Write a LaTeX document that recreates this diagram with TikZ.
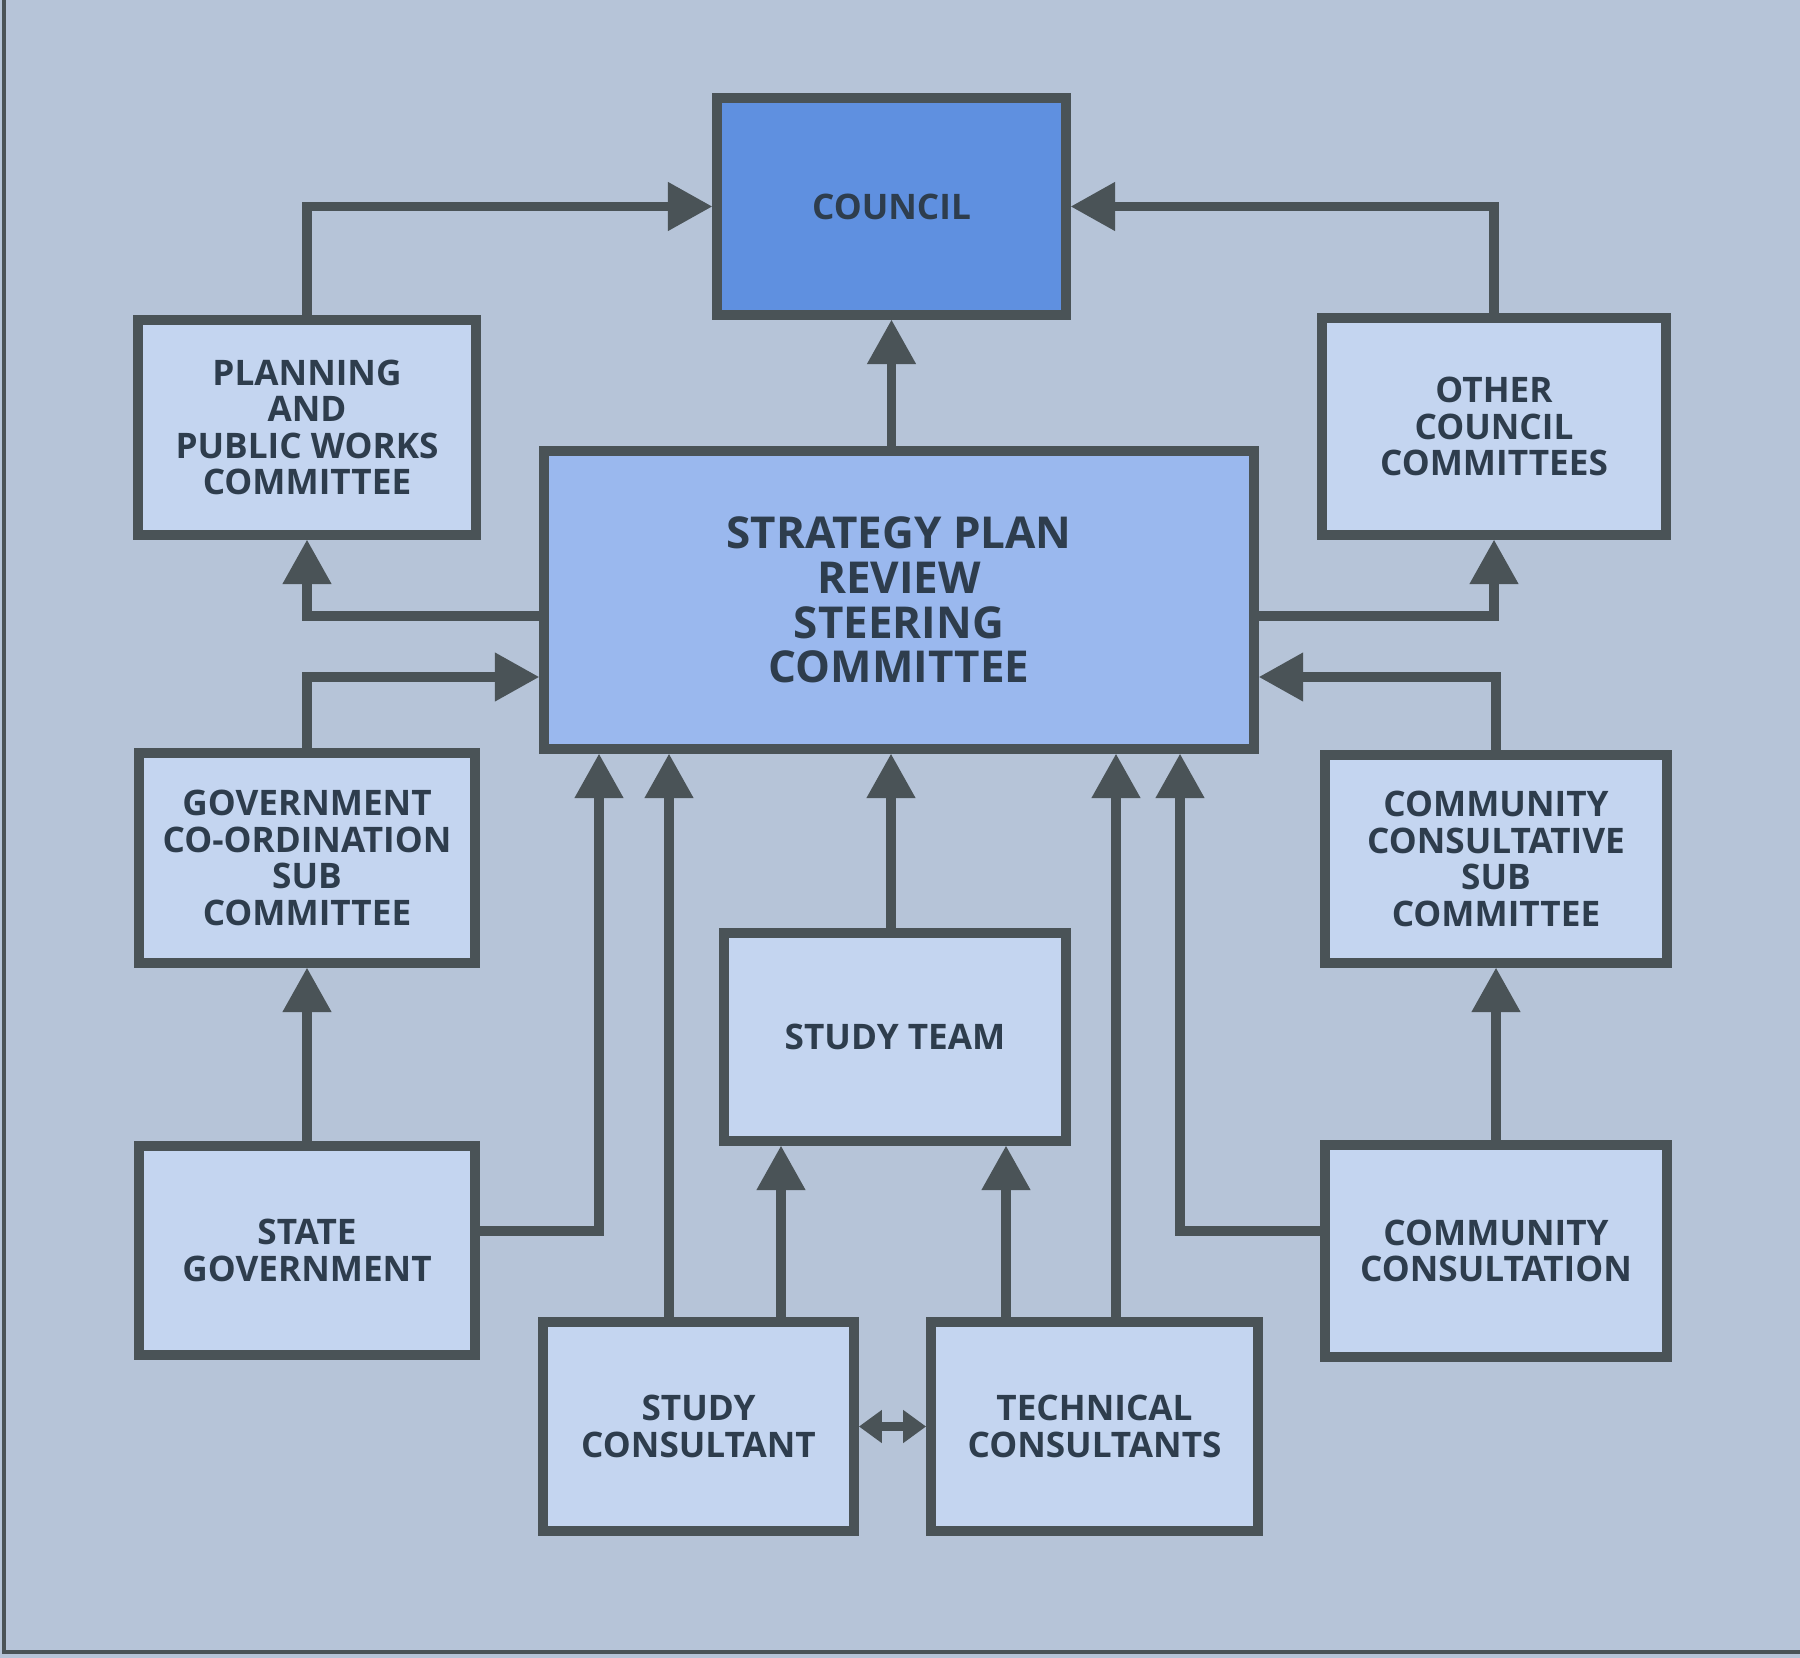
\documentclass[tikz,border=0pt]{standalone}
\usepackage{fontspec}
\setmainfont{Open Sans}
\usetikzlibrary{arrows.meta}
\definecolor{bgc}{HTML}{B6C4D8}
\definecolor{lightbox}{HTML}{C4D5F0}
\definecolor{midbox}{HTML}{9AB8EE}
\definecolor{darkbox}{HTML}{5F90E0}
\definecolor{linec}{HTML}{4A5357}
\definecolor{textc}{HTML}{2E3D4D}
\tikzset{
  box/.style={draw=linec, line width=2.85pt, fill=lightbox, align=center, text=textc,
    inner sep=0pt, font=\bfseries\fontsize{10}{10.4}\selectfont},
  conn/.style={draw=linec, line width=2.6pt, line join=miter,
    -{Triangle[width=14pt,length=12.5pt,line width=0pt]}},
  dbl/.style={draw=linec, line width=2.6pt,
    {Triangle[width=9.5pt,length=6.5pt,line width=0pt]}-{Triangle[width=9.5pt,length=6.5pt,line width=0pt]}},
  frameline/.style={draw=linec, line width=1pt}
}
\begin{document}
\begin{tikzpicture}[x=0.01cm,y=-0.01cm]
\useasboundingbox (0,0) rectangle (1800,1658);
\fill[bgc] (0,0) rectangle (1800,1658);
\draw[frameline] (4,0) -- (4,1652) -- (1800,1652);

\node[box, fill=darkbox, minimum width=3.49cm, minimum height=2.17cm] (council) at (891.5,206.5) {COUNCIL};
\node[box, minimum width=3.38cm, minimum height=2.15cm] (plan) at (307,427.5) {PLANNING\\AND\\PUBLIC WORKS\\COMMITTEE};
\node[box, minimum width=3.44cm, minimum height=2.17cm] (other) at (1494,426.5) {OTHER\\COUNCIL\\COMMITTEES};
\node[box, fill=midbox, minimum width=7.10cm, minimum height=2.98cm, font=\bfseries\fontsize{12.5}{12.7}\selectfont] (strat) at (899,600) {STRATEGY PLAN\\REVIEW\\STEERING\\COMMITTEE};
\node[box, minimum width=3.36cm, minimum height=2.10cm] (gov) at (307,858) {GOVERNMENT\\CO-ORDINATION\\SUB\\COMMITTEE};
\node[box, minimum width=3.41cm, minimum height=2.08cm] (ccs) at (1496,859) {COMMUNITY\\CONSULTATIVE\\SUB\\COMMITTEE};
\node[box, minimum width=3.42cm, minimum height=2.08cm] (team) at (895,1037) {STUDY TEAM};
\node[box, minimum width=3.36cm, minimum height=2.09cm] (state) at (307,1250.5) {STATE\\GOVERNMENT};
\node[box, minimum width=3.41cm, minimum height=2.12cm] (cc) at (1496,1251) {COMMUNITY\\CONSULTATION};
\node[box, minimum width=3.11cm, minimum height=2.09cm] (scons) at (698.5,1426.5) {STUDY\\CONSULTANT};
\node[box, minimum width=3.27cm, minimum height=2.09cm] (tcons) at (1094.5,1426.5) {TECHNICAL\\CONSULTANTS};

\coordinate (yPO) at (0,616);
\coordinate (yGC) at (0,677);
\coordinate (yB) at (0,1231);
\coordinate (xA) at (599,0);
\coordinate (xB) at (669,0);
\coordinate (xC) at (781,0);
\coordinate (xD) at (891,0);
\coordinate (xE) at (1006,0);
\coordinate (xF) at (1116,0);
\coordinate (xG) at (1180,0);

\draw[conn] (plan.north) |- (council.west);
\draw[conn] (other.north) |- (council.east);
\draw[conn] (strat.north -| council.south) -- (council.south);
\draw[conn] (strat.west |- yPO) -| (plan.south);
\draw[conn] (strat.east |- yPO) -| (other.south);
\draw[conn] (gov.north) |- (strat.west |- yGC);
\draw[conn] (ccs.north) |- (strat.east |- yGC);
\draw[conn] (state.north) -- (gov.south);
\draw[conn] (cc.north) -- (ccs.south);
\draw[conn] (state.east |- yB) -| (strat.south -| xA);
\draw[conn] (scons.north -| xB) -- (strat.south -| xB);
\draw[conn] (scons.north -| xC) -- (team.south -| xC);
\draw[conn] (team.north -| xD) -- (strat.south -| xD);
\draw[conn] (tcons.north -| xE) -- (team.south -| xE);
\draw[conn] (tcons.north -| xF) -- (strat.south -| xF);
\draw[conn] (cc.west |- yB) -| (strat.south -| xG);
\draw[dbl] (scons.east) -- (tcons.west);
\end{tikzpicture}
\end{document}
